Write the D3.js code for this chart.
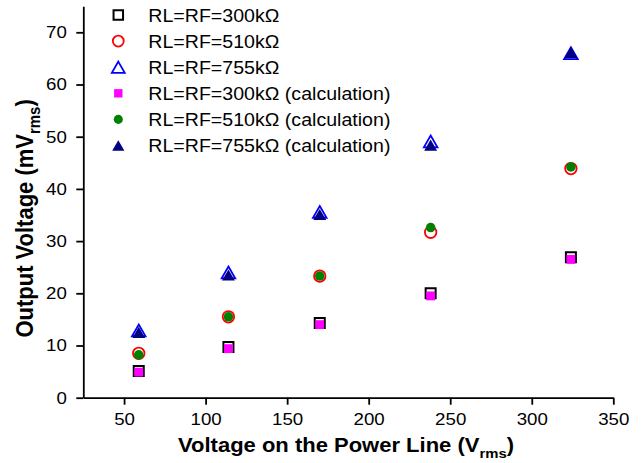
<!DOCTYPE html>
<html>
<head>
<meta charset="utf-8">
<script src="https://cdn.jsdelivr.net/npm/d3@7"></script>
<style>
    body { margin: 0; background: #fff; }
    svg { display: block; font-family: "Liberation Sans", Arial, sans-serif; }
</style>
</head>
<body>
<svg id="chart" width="644" height="463"></svg>
<script>
// voltage on the power line (Vrms), one value per measurement group
const lineVoltage = [59, 114, 170, 238, 324];

// measured output voltage (mVrms)
const meas300 = [5.1, 9.7, 14.3, 20.0, 26.9];
const meas510 = [8.5, 15.5, 23.3, 31.7, 43.9];
const meas755 = [12.9, 24.0, 35.6, 49.1, 66.0];

// calculated output voltage (mVrms)
const calc300 = [4.9, 9.4, 14.0, 19.5, 26.5];
const calc510 = [8.2, 15.5, 23.3, 32.6, 44.2];
const calc755 = [12.5, 23.5, 35.1, 48.4, 66.1];

const seriesLabels = [
    "RL=RF=300k\u03A9", "RL=RF=510k\u03A9", "RL=RF=755k\u03A9",
    "RL=RF=300k\u03A9 (calculation)", "RL=RF=510k\u03A9 (calculation)", "RL=RF=755k\u03A9 (calculation)"
];

const xTicks = [50, 100, 150, 200, 250, 300, 350];
const xMinor = [25, 75, 125, 175, 225, 275, 325];
const yTicks = [0, 10, 20, 30, 40, 50, 60, 70];
const yMinor = [5, 15, 25, 35, 45, 55, 65, 75];

// triangle centred on its bounding box (like Origin markers), not on the centroid
const triangleBox = {
    draw(context, size) {
        const a = Math.sqrt(size * 4 / Math.sqrt(3));
        const h = a * Math.sqrt(3) / 2;
        context.moveTo(0, -h / 2);
        context.lineTo(a / 2, h / 2);
        context.lineTo(-a / 2, h / 2);
        context.closePath();
    }
};

// marker styles, measured (hollow) first so the calculated ones sit on top
const series = [
    { label: seriesLabels[0], values: meas300, type: d3.symbolSquare, size: 100, fill: "none", stroke: "#000", lw: 2 },
    { label: seriesLabels[1], values: meas510, type: d3.symbolCircle, size: 104, fill: "none", stroke: "#ff0000", lw: 1.8 },
    { label: seriesLabels[2], values: meas755, type: triangleBox, size: 80, fill: "none", stroke: "#0000ff", lw: 1.8 },
    { label: seriesLabels[3], values: calc300, type: d3.symbolSquare, size: 78, fill: "#ff00ff", stroke: "none", lw: 0 },
    { label: seriesLabels[4], values: calc510, type: d3.symbolCircle, size: 72, fill: "#008000", stroke: "none", lw: 0 },
    { label: seriesLabels[5], values: calc755, type: triangleBox, size: 72, fill: "#000080", stroke: "none", lw: 0 }
];

const svg = d3.select("#chart");
svg.append("rect").attr("width", 644).attr("height", 463).attr("fill", "#fff");

const x = d3.scaleLinear().domain([25, 350]).range([83.3, 613.3]);
const y = d3.scaleLinear().domain([0, 75]).range([397.7, 6.2]);

// the picture is slightly wider than tall, stretch text the same way
const stretch = 1.1;

// x axis: major + minor ticks
const gx = svg.append("g").attr("transform", "translate(0,397.7)");
gx.call(d3.axisBottom(x).tickValues(xMinor).tickSize(4).tickSizeOuter(0).tickFormat(""));
gx.call(d3.axisBottom(x).tickValues(xTicks).tickSize(7).tickSizeOuter(0).tickPadding(8));

const gy = svg.append("g").attr("transform", "translate(83.3,0)");
gy.call(d3.axisLeft(y).tickValues(yMinor).tickSize(4).tickSizeOuter(0).tickFormat(""));
gy.call(d3.axisLeft(y).tickValues(yTicks).tickSize(7).tickSizeOuter(0).tickPadding(8));

svg.selectAll(".domain, .tick line").attr("stroke", "#000").attr("stroke-width", 1.8);
svg.selectAll(".tick text")
    .attr("font-family", "Liberation Sans, Arial, sans-serif")
    .attr("font-size", 17)
    .attr("fill", "#000")
    .attr("transform", `scale(${stretch},1)`);

// axis titles
const xTitle = svg.append("text")
    .attr("transform", `translate(178,451.7) scale(${stretch},1)`)
    .attr("font-size", 20).attr("font-weight", "bold");
xTitle.append("tspan").text("Voltage on the Power Line (V");
xTitle.append("tspan").attr("font-size", 13.5).attr("dy", 6).text("rms");
xTitle.append("tspan").attr("dy", -6).text(")");

const yTitle = svg.append("text")
    .attr("transform", `translate(33,218.4) rotate(-90) scale(1,${stretch})`)
    .attr("text-anchor", "middle")
    .attr("font-size", 22).attr("font-weight", "bold");
yTitle.append("tspan").text("Output Voltage (mV");
yTitle.append("tspan").attr("font-size", 15).attr("dy", 6).text("rms");
yTitle.append("tspan").attr("dy", -6).text(")");

// markers
series.forEach(s => {
    const sym = d3.symbol().type(s.type).size(s.size);
    svg.append("g").selectAll("path")
        .data(s.values.map((v, i) => [lineVoltage[i], v]))
        .join("path")
        .attr("d", sym)
        .attr("transform", d => `translate(${x(d[0])},${y(d[1])})`)
        .attr("fill", s.fill)
        .attr("stroke", s.stroke)
        .attr("stroke-width", s.lw);
});

// legend
const legend = svg.append("g");
series.forEach((s, i) => {
    const cy = 15 + i * 26.1;
    const sym = d3.symbol().type(s.type).size(s.size * 0.9);
    legend.append("path")
        .attr("d", sym)
        .attr("transform", `translate(118.3,${cy})`)
        .attr("fill", s.fill)
        .attr("stroke", s.stroke)
        .attr("stroke-width", s.lw);
    legend.append("text")
        .attr("transform", `translate(148.3,${cy + 6.7}) scale(1.12,1)`)
        .attr("font-size", 17.5)
        .text(s.label);
});
</script>
</body>
</html>
